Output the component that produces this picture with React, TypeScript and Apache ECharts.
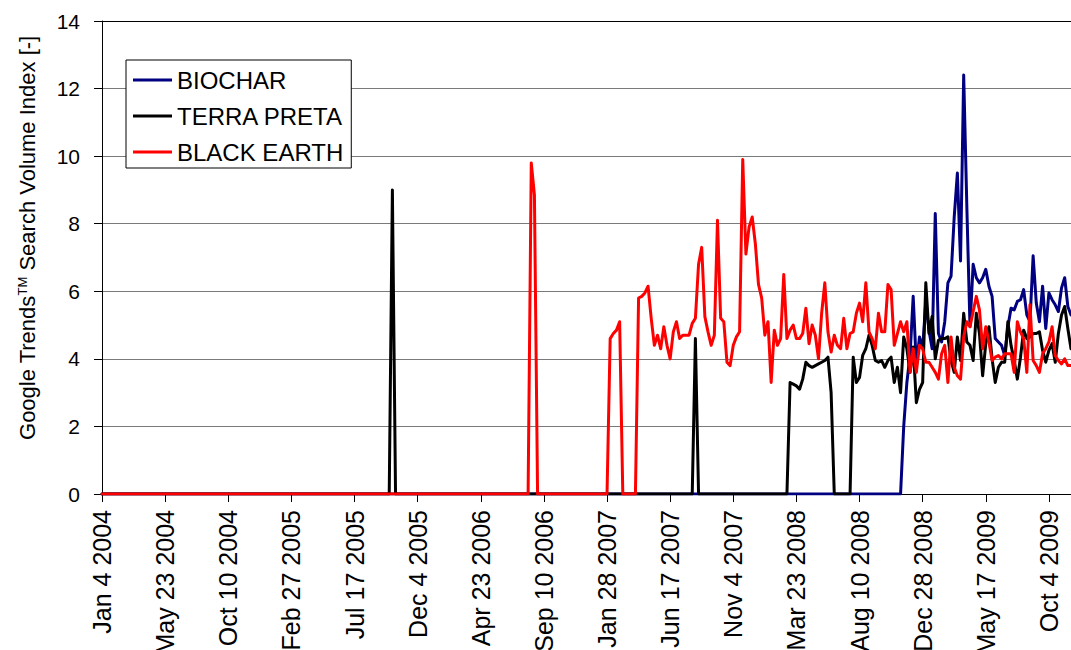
import React, { useEffect, useRef } from "react";
import * as echarts from "echarts";

const FONT = '"Liberation Sans", Arial, Helvetica, sans-serif';

// Weekly Google Trends index, one value per week starting Jan 4 2004
const BIOCHAR = [
  0,0,0,0,0,0,0,0,0,0,0,0,0,0,0,0,0,0,0,0,
  0,0,0,0,0,0,0,0,0,0,0,0,0,0,0,0,0,0,0,0,
  0,0,0,0,0,0,0,0,0,0,0,0,0,0,0,0,0,0,0,0,
  0,0,0,0,0,0,0,0,0,0,0,0,0,0,0,0,0,0,0,0,
  0,0,0,0,0,0,0,0,0,0,0,0,0,0,0,0,0,0,0,0,
  0,0,0,0,0,0,0,0,0,0,0,0,0,0,0,0,0,0,0,0,
  0,0,0,0,0,0,0,0,0,0,0,0,0,0,0,0,0,0,0,0,
  0,0,0,0,0,0,0,0,0,0,0,0,0,0,0,0,0,0,0,0,
  0,0,0,0,0,0,0,0,0,0,0,0,0,0,0,0,0,0,0,0,
  0,0,0,0,0,0,0,0,0,0,0,0,0,0,0,0,0,0,0,0,
  0,0,0,0,0,0,0,0,0,0,0,0,0,0,0,0,0,0,0,0,
  0,0,0,0,0,0,0,0,0,0,0,0,0,0,0,0,0,0,0,0,
  0,0,0,0,0,0,0,0,0,0,0,0,0,0,2.0,3.3,4.1,5.85,3.8,4.65,
  4.3,5.7,4.85,4.3,8.3,4.75,4.5,5.1,6.25,6.45,8.2,9.5,6.9,12.4,8.5,4.95,6.8,6.4,6.25,6.4,
  6.65,6.15,5.85,4.6,4.5,4.4,4.1,4.95,5.5,5.45,5.7,5.75,6.05,5.3,5.1,7.05,5.65,5.1,6.15,4.9,
  5.95,5.75,5.6,5.4,6.1,6.4,5.55,5.3,
];

const TERRA_PRETA = [
  0,0,0,0,0,0,0,0,0,0,0,0,0,0,0,0,0,0,0,0,
  0,0,0,0,0,0,0,0,0,0,0,0,0,0,0,0,0,0,0,0,
  0,0,0,0,0,0,0,0,0,0,0,0,0,0,0,0,0,0,0,0,
  0,0,0,0,0,0,0,0,0,0,0,0,0,0,0,0,0,0,0,0,
  0,0,0,0,0,0,0,0,0,0,0,0,9.0,0,0,0,0,0,0,0,
  0,0,0,0,0,0,0,0,0,0,0,0,0,0,0,0,0,0,0,0,
  0,0,0,0,0,0,0,0,0,0,0,0,0,0,0,0,0,0,0,0,
  0,0,0,0,0,0,0,0,0,0,0,0,0,0,0,0,0,0,0,0,
  0,0,0,0,0,0,0,0,0,0,0,0,0,0,0,0,0,0,0,0,
  0,0,0,0,0,0,0,0,4.6,0,0,0,0,0,0,0,0,0,0,0,
  0,0,0,0,0,0,0,0,0,0,0,0,0,0,0,0,0,0,3.3,3.25,
  3.2,3.1,3.4,3.9,3.8,3.75,3.8,3.85,3.9,3.95,4.05,3.0,0,0,0,0,0,0,4.05,3.3,
  3.45,4.1,4.3,4.7,4.4,3.95,3.9,3.95,3.75,3.95,4.05,3.3,3.75,3.0,4.65,4.3,3.6,4.35,2.7,3.1,
  3.3,6.25,4.75,5.25,4.0,4.55,4.6,4.6,4.65,3.95,3.6,4.65,3.95,5.35,4.5,4.4,3.95,5.35,4.75,3.5,
  4.45,4.95,4.0,3.3,3.75,3.9,3.9,5.1,4.4,3.95,3.4,4.05,4.85,4.6,4.65,4.75,4.75,4.8,4.25,3.9,
  4.25,4.45,3.9,4.75,5.3,5.55,4.9,4.3,
];

const BLACK_EARTH = [
  0,0,0,0,0,0,0,0,0,0,0,0,0,0,0,0,0,0,0,0,
  0,0,0,0,0,0,0,0,0,0,0,0,0,0,0,0,0,0,0,0,
  0,0,0,0,0,0,0,0,0,0,0,0,0,0,0,0,0,0,0,0,
  0,0,0,0,0,0,0,0,0,0,0,0,0,0,0,0,0,0,0,0,
  0,0,0,0,0,0,0,0,0,0,0,0,0,0,0,0,0,0,0,0,
  0,0,0,0,0,0,0,0,0,0,0,0,0,0,0,0,0,0,0,0,
  0,0,0,0,0,0,0,0,0,0,0,0,0,0,0,0,9.8,8.85,0,0,
  0,0,0,0,0,0,0,0,0,0,0,0,0,0,0,0,0,0,0,0,
  0,4.6,4.75,4.85,5.1,0,0,0,0,0,5.8,5.85,5.95,6.15,5.2,4.4,4.7,4.3,4.95,4.4,
  4.0,4.8,5.1,4.6,4.7,4.7,4.7,5.05,5.2,6.8,7.3,5.25,4.8,4.4,4.7,8.1,5.2,5.1,3.9,3.8,
  4.4,4.65,4.8,9.9,7.1,7.9,8.2,7.4,6.2,5.8,4.7,5.1,3.3,4.85,4.4,4.6,6.5,4.6,4.85,5.0,
  4.6,4.6,4.75,5.5,4.45,5.0,4.7,4.0,5.35,6.25,4.8,4.2,4.7,4.4,4.3,5.2,4.3,4.75,4.8,5.35,
  5.65,5.1,6.25,4.8,4.6,4.3,5.35,4.8,4.8,6.2,6.05,4.4,4.75,5.1,4.8,5.1,3.6,4.3,3.6,4.4,
  4.3,3.9,3.9,3.75,3.6,3.4,4.15,4.4,3.3,4.65,3.75,3.5,3.4,4.65,5.1,4.95,5.4,5.85,5.45,4.3,
  4.95,4.5,3.95,4.05,4.1,4.0,4.15,4.15,4.15,3.6,5.1,4.8,4.6,3.6,5.6,3.95,3.8,3.6,4.15,4.3,
  4.5,4.95,4.1,3.95,3.85,4.0,3.8,3.8,
];

const SERIES_NAMES = ["BIOCHAR", "TERRA PRETA", "BLACK EARTH"];
const SERIES_COLORS = ["#000080", "#000000", "#ff0000"];
const SERIES_DATA = [BIOCHAR, TERRA_PRETA, BLACK_EARTH];

const START_DATE = Date.UTC(2004, 0, 4);
const MONTHS = ["Jan", "Feb", "Mar", "Apr", "May", "Jun", "Jul", "Aug", "Sep", "Oct", "Nov", "Dec"];
const WEEK_MS = 7 * 24 * 3600 * 1000;
const CATEGORIES = BLACK_EARTH.map((_, i) => {
  const d = new Date(START_DATE + i * WEEK_MS);
  return `${MONTHS[d.getUTCMonth()]} ${d.getUTCDate()} ${d.getUTCFullYear()}`;
});
const LABEL_INTERVAL = 19; // a label every 20 weeks

const Y_MIN = 0;
const Y_MAX = 14;
const Y_STEP = 2;

export default function App() {
  const ref = useRef<HTMLDivElement>(null);

  useEffect(() => {
    const chart = echarts.init(ref.current!, null, { renderer: "svg" });
    chart.setOption({
      animation: false,
      backgroundColor: "#ffffff",
      grid: { left: 102, right: 0, top: 21, bottom: 156, outerBoundsMode: "none", containLabel: false },
      legend: {
        orient: "vertical",
        left: 126,
        top: 60,
        padding: [8, 8, 4, 7],
        itemGap: 12,
        itemWidth: 39,
        itemHeight: 3,
        icon: "rect",
        backgroundColor: "#ffffff",
        borderColor: "#000000",
        borderWidth: 1,
        borderRadius: 0,
        textStyle: { fontSize: 24, color: "#000", fontFamily: FONT },
        data: SERIES_NAMES,
      },
      xAxis: [
        {
          type: "category",
          data: CATEGORIES,
          boundaryGap: false,
          axisLine: { lineStyle: { color: "#000", width: 1 } },
          axisTick: { interval: LABEL_INTERVAL, length: 8, lineStyle: { color: "#000" } },
          axisLabel: {
            interval: LABEL_INTERVAL,
            rotate: 90,
            margin: 16,
            fontSize: 25,
            color: "#000",
            fontFamily: FONT,
          },
          splitLine: { show: false },
        },
        {
          type: "category",
          position: "top",
          data: CATEGORIES,
          boundaryGap: false,
          axisLine: { show: true, lineStyle: { color: "#000", width: 1 } },
          axisTick: { show: false },
          axisLabel: { show: false },
          splitLine: { show: false },
        },
      ],
      yAxis: {
        type: "value",
        min: Y_MIN,
        max: Y_MAX,
        interval: Y_STEP,
        axisLine: { show: true, lineStyle: { color: "#000", width: 1 } },
        axisTick: { show: true, length: 8, lineStyle: { color: "#000" } },
        axisLabel: { fontSize: 21, color: "#000", margin: 22, fontFamily: FONT },
        splitLine: { lineStyle: { color: "#7a7a7a", width: 1 } },
      },
      series: SERIES_NAMES.map((name, k) => ({
        name,
        type: "line",
        data: SERIES_DATA[k],
        xAxisIndex: 0,
        showSymbol: false,
        symbol: "none",
        color: SERIES_COLORS[k],
        lineStyle: { width: 3, color: SERIES_COLORS[k], join: "round", cap: "round" },
        itemStyle: { color: SERIES_COLORS[k] },
      })),
      graphic: [
        {
          type: "text",
          x: 27,
          y: 238,
          rotation: Math.PI / 2,
          style: {
            text: "{a|Google Trends}{s|TM}{a| Search Volume Index [-]}",
            rich: {
              a: { fontSize: 22, fontFamily: FONT, fill: "#000" },
              s: { fontSize: 13, fontFamily: FONT, fill: "#000", verticalAlign: "top" },
            },
            align: "center",
            verticalAlign: "middle",
            textAlign: "center",
            textVerticalAlign: "middle",
          },
        },
      ],
    });
    return () => chart.dispose();
  }, []);

  return (
    <div
      ref={ref}
      style={{ position: "fixed", left: 0, top: 0, width: 1071, height: 650, background: "#fff" }}
    />
  );
}
